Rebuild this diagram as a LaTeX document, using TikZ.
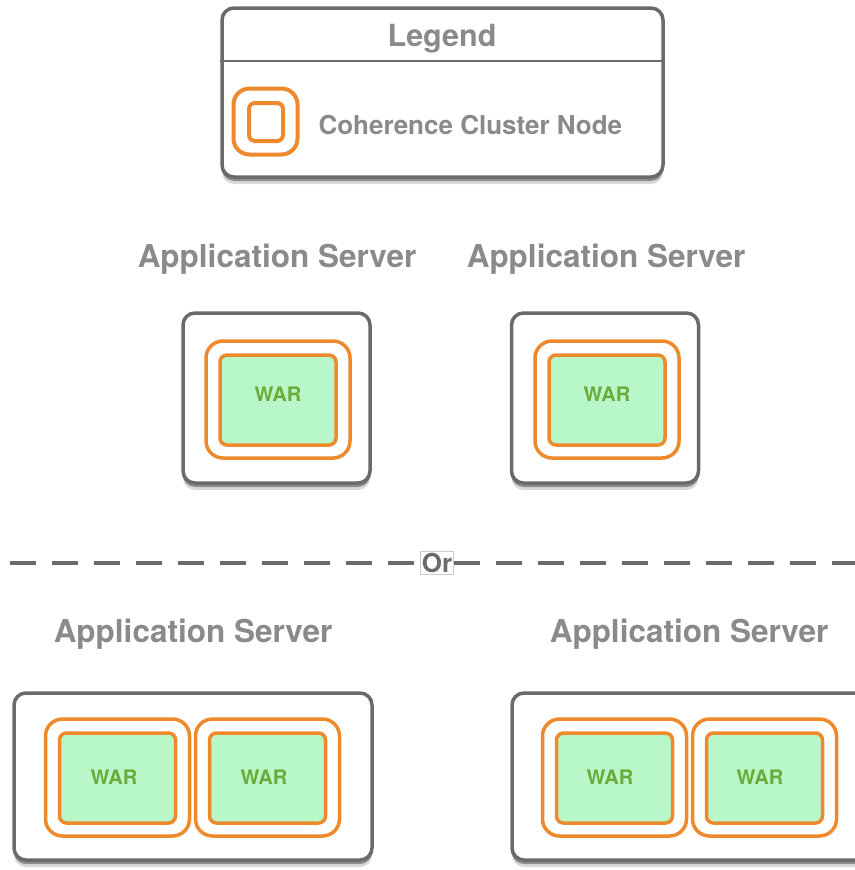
\documentclass[tikz,border=0pt]{standalone}
\usepackage{fontspec}
\setmainfont{TeX Gyre Heros}
\usetikzlibrary{shadows,calc}

\definecolor{frame}{HTML}{6A6A6A}
\definecolor{labelgray}{HTML}{8A8A8A}
\definecolor{orng}{HTML}{EE8A2C}
\definecolor{mint}{HTML}{B8F7C8}
\definecolor{wargreen}{HTML}{6DAA3C}

\tikzset{
  server/.style={draw=frame, line width=3.5pt, rounded corners=12pt, fill=white, inner sep=0pt,
    drop shadow={shadow xshift=0pt, shadow yshift=-7pt, opacity=0.15, fill=black},
    drop shadow={shadow xshift=0pt, shadow yshift=-4pt, opacity=0.35, fill=black}},
  cluster/.style={draw=orng, line width=3.5pt, rounded corners=17pt, fill=white, inner sep=0pt,
    minimum width=144pt, minimum height=117pt},
  war/.style={draw=orng, line width=3.5pt, rounded corners=7pt, fill=mint, inner sep=0pt,
    minimum width=116pt, minimum height=90pt},
  wartext/.style={text=wargreen, font=\fontsize{20}{22}\selectfont\bfseries},
  title/.style={text=labelgray, font=\fontsize{31.5}{34}\selectfont\bfseries},
  sep/.style={draw=frame, line width=4pt, dash pattern=on 26pt off 16pt},
}

\begin{document}
\begin{tikzpicture}[x=1pt, y=-1pt]
\useasboundingbox (0,0) rectangle (854,870);

% legend
\node[server, minimum width=441pt, minimum height=169pt] (legend) at (442.5,92.5) {};
\draw[frame, line width=2pt] ($(legend.north west)+(0,55)$) -- ($(legend.north east)+(0,55)$);
\node[text=labelgray, font=\fontsize{30.5}{32}\selectfont\bfseries] (legtitle) at (442,39) {Legend};
\node[draw=orng, line width=4pt, rounded corners=16pt, minimum width=64pt, minimum height=66pt, inner sep=0pt] (icon) at (265.5,121.5) {};
\node[draw=orng, line width=4pt, rounded corners=6pt, minimum width=34pt, minimum height=38pt, inner sep=0pt] (iconin) at (266,122) {};
\node[anchor=west, text=labelgray, font=\fontsize{26}{28}\selectfont\bfseries] (legtext) at (315,125) {Coherence Cluster Node};

% upper alternative: one WAR per server
\node[title] (t1) at (277,259) {Application Server};
\node[title] (t2) at (606,259) {Application Server};

\node[server, minimum width=187pt, minimum height=170pt] (s1) at (276.5,398) {};
\node[server, minimum width=187pt, minimum height=170pt] (s2) at (605,398) {};
\node[cluster] (c1) at (278,399.5) {};
\node[war] (w1) at (278,400) {};
\node[wartext] (l1) at (278,394) {WAR};
\node[cluster] (c2) at (607,399.5) {};
\node[war] (w2) at (607,400) {};
\node[wartext] (l2) at (607,394) {WAR};

% separator
\node[draw=black!20, line width=0.8pt, fill=white, inner sep=1.5pt, text=frame,
      font=\fontsize{26}{28}\selectfont\bfseries] (or) at (437,563) {Or};
\coordinate (sepL) at (10,563);
\coordinate (sepR) at (870,563);
\draw[sep] (sepL) -- (or.west);
\draw[sep] (or.east) -- (sepR);

% lower alternative: two WARs per server
\node[title] (t3) at (193,634) {Application Server};
\node[title] (t4) at (689,634) {Application Server};

\node[server, minimum width=358pt, minimum height=167pt] (s3) at (193,776.5) {};
\node[server, minimum width=368pt, minimum height=167pt] (s4) at (696,776.5) {};

\node[cluster] (c3) at (117.5,777.5) {};
\node[war] (w3) at (117.5,778) {};
\node[wartext] (l3) at (114,777) {WAR};
\node[cluster] (c4) at (267.5,777.5) {};
\node[war] (w4) at (267.5,778) {};
\node[wartext] (l4) at (264,777) {WAR};
\node[cluster] (c5) at (614.5,777.5) {};
\node[war] (w5) at (614.5,778) {};
\node[wartext] (l5) at (610,777) {WAR};
\node[cluster] (c6) at (764.5,777.5) {};
\node[war] (w6) at (764.5,778) {};
\node[wartext] (l6) at (760,777) {WAR};
\end{tikzpicture}
\end{document}
